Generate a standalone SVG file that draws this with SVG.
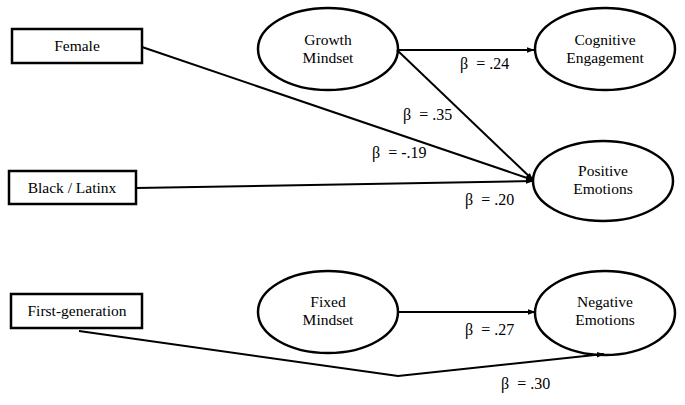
<svg xmlns="http://www.w3.org/2000/svg" width="685" height="405" viewBox="0 0 685 405">
<defs>
<style>
.box{fill:#fff;stroke:#000;stroke-width:2.5}
.ell{fill:#fff;stroke:#000;stroke-width:2.5}
.t{font-family:"Liberation Serif","Times New Roman",serif;font-size:15.5px;fill:#000;text-anchor:middle}
.l{font-family:"Liberation Serif","Times New Roman",serif;font-size:16px;fill:#000;white-space:pre}
.c{fill:none;stroke:#000;stroke-width:2}
</style>
<marker id="ah" viewBox="0 0 10 10" refX="9" refY="5" markerWidth="8" markerHeight="8" orient="auto" markerUnits="userSpaceOnUse">
<path d="M0,1.5 L10,5 L0,8.5 z" fill="#000"/>
</marker>
</defs>
<rect width="685" height="405" fill="#fff"/>
<g id="female"><rect class="box" x="12" y="29" width="130" height="34"/><text class="t" x="77" y="51">Female</text></g>
<g id="black-latinx"><rect class="box" x="9" y="171" width="127" height="33"/><text class="t" x="72" y="193">Black / Latinx</text></g>
<g id="first-generation"><rect class="box" x="11" y="294" width="131" height="34"/><text class="t" x="77" y="316">First-generation</text></g>
<g id="growth-mindset"><ellipse class="ell" cx="328" cy="49" rx="70" ry="41"/><text class="t" x="328" y="45">Growth</text><text class="t" x="328" y="63">Mindset</text></g>
<g id="cognitive-engagement"><ellipse class="ell" cx="605" cy="49" rx="70" ry="41"/><text class="t" x="605" y="45">Cognitive</text><text class="t" x="605" y="63">Engagement</text></g>
<g id="positive-emotions"><ellipse class="ell" cx="603" cy="181" rx="70" ry="40"/><text class="t" x="603" y="176">Positive</text><text class="t" x="603" y="194">Emotions</text></g>
<g id="fixed-mindset"><ellipse class="ell" cx="328" cy="312" rx="70" ry="41"/><text class="t" x="328" y="307">Fixed</text><text class="t" x="328" y="325">Mindset</text></g>
<g id="negative-emotions"><ellipse class="ell" cx="605" cy="313" rx="70" ry="42"/><text class="t" x="605" y="307">Negative</text><text class="t" x="605" y="325">Emotions</text></g>
<g id="connectors">
<line class="c" x1="142" y1="47" x2="533" y2="180" marker-end="url(#ah)"/>
<line class="c" x1="136" y1="188" x2="533" y2="181" marker-end="url(#ah)"/>
<line class="c" x1="397" y1="50" x2="533" y2="180" marker-end="url(#ah)"/>
<line class="c" x1="398" y1="50" x2="534" y2="50" marker-end="url(#ah)"/>
<line class="c" x1="398" y1="312" x2="535" y2="312" marker-end="url(#ah)"/>
<polyline class="c" points="79,331 398,376 604,354" marker-end="url(#ah)"/>
</g>
<g id="labels">
<text class="l" x="460" y="69" xml:space="preserve">β  = .24</text>
<text class="l" x="403" y="120" xml:space="preserve">β  = .35</text>
<text class="l" x="372" y="158" xml:space="preserve">β  = -.19</text>
<text class="l" x="465" y="205" xml:space="preserve">β  = .20</text>
<text class="l" x="465" y="335" xml:space="preserve">β  = .27</text>
<text class="l" x="501" y="389" xml:space="preserve">β  = .30</text>
</g>
</svg>
